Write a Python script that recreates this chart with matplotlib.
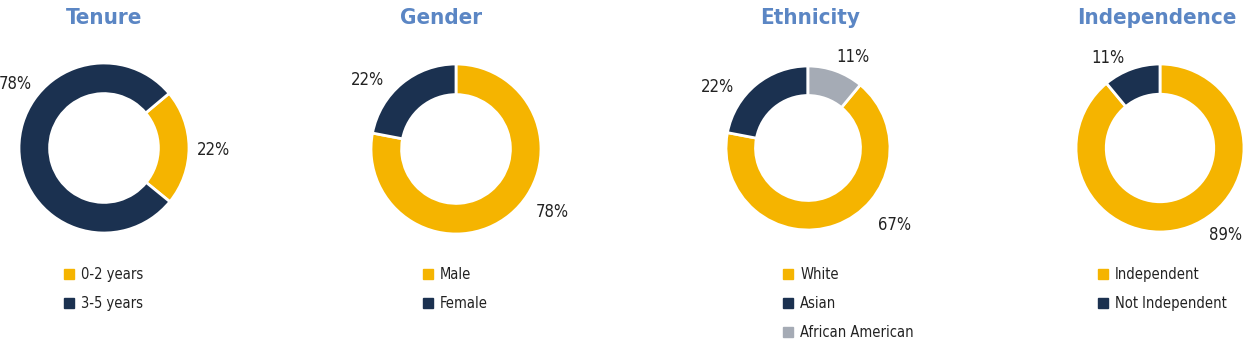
import matplotlib.pyplot as plt
from matplotlib.lines import Line2D
from matplotlib import font_manager as fm

# pick a condensed face if one is installed, else Roboto
def find_face(bold):
    for f in fm.fontManager.ttflist:
        narrow = 'Condensed' in f.name or 'Narrow' in f.name or str(f.stretch) in ('condensed', 'semi-condensed', 'extra-condensed')
        if not narrow or f.style != 'normal':
            continue
        w = f.weight if isinstance(f.weight, int) else fm.weight_dict.get(f.weight, 400)
        if (bold and w >= 700) or (not bold and w == 400):
            return fm.FontProperties(fname=f.fname)
    return fm.FontProperties(family='Roboto', weight='bold' if bold else 'normal')

reg = find_face(False)
bold = find_face(True)

# data
titles = ['Tenure', 'Gender', 'Ethnicity', 'Independence']
labels = [['0-2 years', '3-5 years'],
          ['Male', 'Female'],
          ['White', 'Asian', 'African American'],
          ['Independent', 'Not Independent']]
values = [[22, 78],
          [78, 22],
          [67, 22, 11],
          [89, 11]]

# styles / layout (pixel coords, y from top)
yellow = '#F5B400'
navy = '#1B3150'
grey = '#A5ABB5'
colors = [[yellow, navy], [yellow, navy], [yellow, navy, grey], [yellow, navy]]
centers = [(104, 148), (456, 149), (808, 148), (1160, 148)]
title_x = [104, 441, 810, 1157]
radii = [85, 85, 82, 84]
start = [40, 90, 50.4, 90]
pct_pos = [[(214, 150), (15, 84)],
           [(552, 212), (367, 80)],
           [(895, 225), (717, 87), (853, 57)],
           [(1226, 235), (1108, 58)]]
legend_pos = [(63, 267), (422, 267), (782, 267), (1097, 267)]

W, H = 1246, 344
fig = plt.figure(figsize=(W / 100, H / 100), dpi=100)

for i in range(4):
    ax = fig.add_axes([0, 0, 1, 1])
    ax.patch.set_alpha(0)
    cx, cy = centers[i]
    wedges, _ = ax.pie(values[i], colors=colors[i], startangle=start[i], counterclock=False,
                       center=(cx, H - cy), radius=radii[i],
                       wedgeprops=dict(width=radii[i] * 0.36, edgecolor='white', linewidth=2))
    ax.set_xlim(0, W)
    ax.set_ylim(0, H)
    ax.set_aspect('equal')
    ax.axis('off')

    tp = bold.copy()
    tp.set_size(16)
    ax.text(title_x[i], H - 24, titles[i], ha='center', va='baseline', fontproperties=tp, color='#5B86C4')

    pp = reg.copy()
    pp.set_size(12)
    for v, (px, py) in zip(values[i], pct_pos[i]):
        ax.text(px, H - py, f'{v}%', ha='center', va='center', fontproperties=pp, color='#222222')

    handles = [Line2D([], [], marker='s', linestyle='none', markersize=7.5,
                      markerfacecolor=c, markeredgecolor=c) for c in colors[i]]
    lp = reg.copy()
    lp.set_size(10.5)
    lx, ly = legend_pos[i]
    ax.legend(handles, labels[i], loc='upper left', bbox_to_anchor=(lx, H - ly),
              bbox_transform=ax.transData, frameon=False, prop=lp,
              handlelength=0.8, handletextpad=0.45, labelspacing=0.95,
              borderpad=0, borderaxespad=0, labelcolor='#222222')

fig.savefig('out.png', dpi=100)
